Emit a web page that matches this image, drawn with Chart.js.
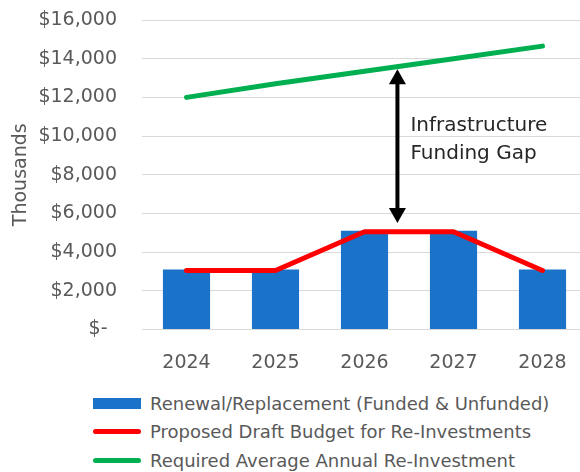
<!DOCTYPE html>
<html>
<head>
<meta charset="utf-8">
<script src="https://cdn.jsdelivr.net/npm/chart.js@4/dist/chart.umd.min.js"></script>
<style>
  html, body { margin: 0; padding: 0; background: #fff; overflow: hidden; width: 580px; height: 472px; }
  #wrap { position: absolute; left: 0; top: 0; width: 600px; height: 372px; }
  #legend { position: absolute; left: 93px; top: 389px; font-family: 'DejaVu Sans', sans-serif; font-size: 18px; color: #595959; }
  .row { display: flex; align-items: center; height: 28.5px; white-space: nowrap; }
  .sw { width: 48px; margin-right: 9px; flex: none; }
</style>
</head>
<body>
<div id="wrap"><canvas id="c"></canvas></div>
<div id="legend"></div>
<script>
// Capital re-investment outlook, values in thousands of dollars
const years = ['2024', '2025', '2026', '2027', '2028'];
const renewalReplacement = [3100, 3100, 5100, 5100, 3100];
const proposedBudget = [3050, 3050, 5050, 5050, 3050];
const requiredReinvestment = [12000, 12700, 13350, 14000, 14650];
const yMin = 0, yMax = 16000, yStep = 2000;

// Double-headed arrow marking the gap (x as fractional category index)
const gapArrow = { x: 2.37, top: 13450, bottom: 5500 };
const gapLabel = ['Infrastructure', 'Funding Gap'];
const gapLabelCenter = 9800;

const TEXT = '#595959';
const FONT = 'DejaVu Sans';

const gapPlugin = {
  id: 'gapArrow',
  afterDatasetsDraw(chart) {
    const { ctx, scales: { x, y } } = chart;
    const p0 = x.getPixelForValue(Math.floor(gapArrow.x));
    const p1 = x.getPixelForValue(Math.floor(gapArrow.x) + 1);
    const ax = p0 + (gapArrow.x - Math.floor(gapArrow.x)) * (p1 - p0);
    const yt = y.getPixelForValue(gapArrow.top);
    const yb = y.getPixelForValue(gapArrow.bottom);
    const headW = 8.5, headH = 15;
    ctx.save();
    ctx.strokeStyle = '#000';
    ctx.fillStyle = '#000';
    ctx.lineWidth = 4;
    ctx.beginPath();
    ctx.moveTo(ax, yt + headH - 1);
    ctx.lineTo(ax, yb - headH + 1);
    ctx.stroke();
    ctx.beginPath();
    ctx.moveTo(ax, yt);
    ctx.lineTo(ax - headW, yt + headH);
    ctx.lineTo(ax + headW, yt + headH);
    ctx.closePath();
    ctx.fill();
    ctx.beginPath();
    ctx.moveTo(ax, yb);
    ctx.lineTo(ax - headW, yb - headH);
    ctx.lineTo(ax + headW, yb - headH);
    ctx.closePath();
    ctx.fill();

    ctx.fillStyle = '#262626';
    ctx.font = '20px "' + FONT + '"';
    ctx.textAlign = 'left';
    ctx.textBaseline = 'middle';
    const cy = y.getPixelForValue(gapLabelCenter);
    const lh = 28;
    gapLabel.forEach((t, i) => {
      ctx.fillText(t, ax + 13, cy + (i - (gapLabel.length - 1) / 2) * lh);
    });
    ctx.restore();
  }
};

const chart = new Chart(document.getElementById('c'), {
  type: 'bar',
  data: {
    labels: years,
    datasets: [
      {
        type: 'bar',
        label: 'Renewal/Replacement (Funded & Unfunded)',
        data: renewalReplacement,
        backgroundColor: '#1B73C9',
        borderWidth: 0,
        categoryPercentage: 1,
        barPercentage: 0.53,
        order: 2
      },
      {
        type: 'line',
        label: 'Proposed Draft Budget for Re-Investments',
        data: proposedBudget,
        borderColor: '#FF0000',
        backgroundColor: '#FF0000',
        borderWidth: 5,
        pointRadius: 0,
        tension: 0,
        borderCapStyle: 'round',
        borderJoinStyle: 'round',
        order: 1
      },
      {
        type: 'line',
        label: 'Required Average Annual Re-Investment',
        data: requiredReinvestment,
        borderColor: '#00B050',
        backgroundColor: '#00B050',
        borderWidth: 5,
        pointRadius: 0,
        tension: 0,
        borderCapStyle: 'round',
        borderJoinStyle: 'round',
        order: 0
      }
    ]
  },
  options: {
    responsive: true,
    maintainAspectRatio: false,
    animation: false,
    layout: { padding: { top: 20, right: 13, bottom: 0, left: 0 } },
    plugins: {
      legend: { display: false },
      tooltip: { enabled: false }
    },
    scales: {
      x: {
        grid: { display: false },
        border: { display: false },
        ticks: { color: TEXT, font: { family: FONT, size: 19 }, padding: 14 },
        afterFit(s) { s.height = 42.5; }
      },
      y: {
        min: yMin,
        max: yMax,
        grid: { color: '#D9D9D9', lineWidth: 1, drawTicks: true, tickLength: 25, tickColor: 'rgba(0,0,0,0)' },
        border: { display: false },
        ticks: {
          stepSize: yStep,
          color: TEXT,
          padding: 0,
          font: { family: FONT, size: 19 },
          callback: v => v === 0 ? '$-\u2002' : '$' + v.toLocaleString('en-US')
        },
        title: {
          display: true,
          text: 'Thousands',
          color: TEXT,
          font: { family: FONT, size: 19 },
          padding: { top: 10, bottom: 0 }
        },
        afterFit(s) { s.width = 142; }
      }
    }
  },
  plugins: [gapPlugin]
});

// Legend rows built from the chart's datasets
const legend = document.getElementById('legend');
chart.data.datasets.forEach(ds => {
  const row = document.createElement('div');
  row.className = 'row';
  const sw = document.createElement('span');
  sw.className = 'sw';
  if (ds.type === 'bar') {
    sw.style.height = '11px';
    sw.style.background = ds.backgroundColor;
  } else {
    sw.style.height = ds.borderWidth + 'px';
    sw.style.background = ds.borderColor;
    sw.style.borderRadius = (ds.borderWidth / 2) + 'px';
  }
  const tx = document.createElement('span');
  tx.textContent = ds.label;
  row.appendChild(sw);
  row.appendChild(tx);
  legend.appendChild(row);
});
</script>
</body>
</html>
